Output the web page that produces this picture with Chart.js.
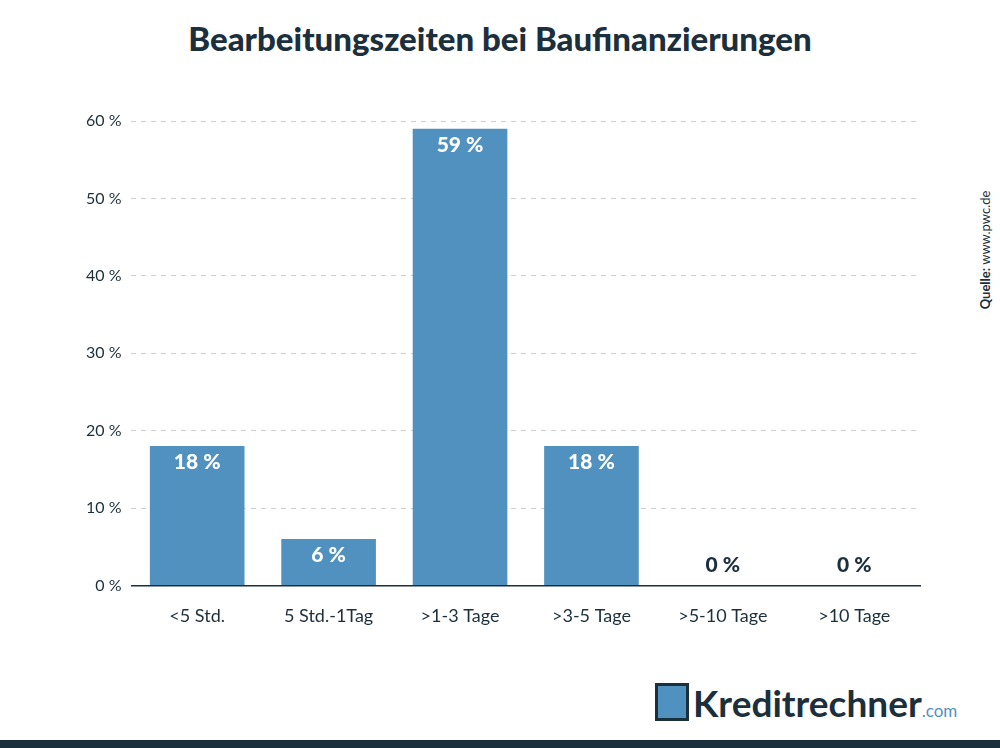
<!DOCTYPE html>
<html><head><meta charset="utf-8">
<script src="https://cdn.jsdelivr.net/npm/chart.js@4"></script>
<style>
body{margin:0;width:1000px;height:748px;background:#fff;font-family:Lato,sans-serif;position:relative;overflow:hidden}
#t{position:absolute;top:18px;left:0;width:1000px;text-align:center;font-weight:900;font-size:33px;color:#1b2f3c}
#c{position:absolute;left:0;top:90px;width:940px;height:549px}
#q{position:absolute;left:985px;top:250px;transform:translate(-50%,-50%) rotate(-90deg);font-size:13px;color:#1b2f3c;white-space:nowrap}
#bar{position:absolute;left:0;top:740px;width:1000px;height:8px;background:#1b2f3c}
#logo{position:absolute;left:655px;top:680px;font-size:37px;color:#1b2f3c;font-weight:700}
#logo span{font-size:17px;color:#4f92bf;font-weight:400}
#k{display:inline-block;width:28px;height:32px;border:3px solid #1b2f3c;vertical-align:-4px;margin-right:4px;background:#4f92bf}
</style></head><body>
<div id="t">Bearbeitungszeiten bei Baufinanzierungen</div>
<div id="c"><canvas id="cv"></canvas></div>
<div id="q"><b>Quelle:</b> www.pwc.de</div>
<div id="logo"><i id="k"></i>Kreditrechner<span>.com</span></div>
<div id="bar"></div>
<script>
const categories=["<5 Std.","5 Std.-1Tag",">1-3 Tage",">3-5 Tage",">5-10 Tage",">10 Tage"];
const values=[18,6,59,18,0,0];
const tickLabels=[0,10,20,30,40,50,60];
const lbl={id:'lbl',afterDatasetsDraw(ch){const c=ch.ctx;const m=ch.getDatasetMeta(0);c.save();c.font='900 21px Lato';c.textAlign='center';
m.data.forEach((b,i)=>{const v=values[i];if(v>0){c.fillStyle='#fff';c.textBaseline='top';c.fillText(v+' %',b.x,b.y+6);}else{c.fillStyle='#1b2f3c';c.textBaseline='bottom';c.fillText(v+' %',b.x,b.y-10);}});c.restore();}};
new Chart(document.getElementById('cv'),{type:'bar',data:{labels:categories,datasets:[{data:values,backgroundColor:'#5091bf',categoryPercentage:1,barPercentage:0.72}]},
options:{responsive:true,maintainAspectRatio:false,animation:false,layout:{padding:{left:76,right:20,top:31,bottom:0}},
plugins:{legend:{display:false},tooltip:{enabled:false}},
scales:{y:{min:0,max:60,ticks:{stepSize:10,color:'#1b2f3c',font:{family:'Lato',size:16},padding:10,callback:v=>tickLabels.includes(v)?v+' %':''},border:{display:false,dash:[5,5]},grid:{color:'#cfcfcf',drawTicks:false}},
x:{ticks:{color:'#1b2f3c',font:{family:'Lato',size:18},padding:12},grid:{display:false},border:{color:'#1b2f3c',width:1.5}}}},
plugins:[lbl]});
</script>
</body></html>
